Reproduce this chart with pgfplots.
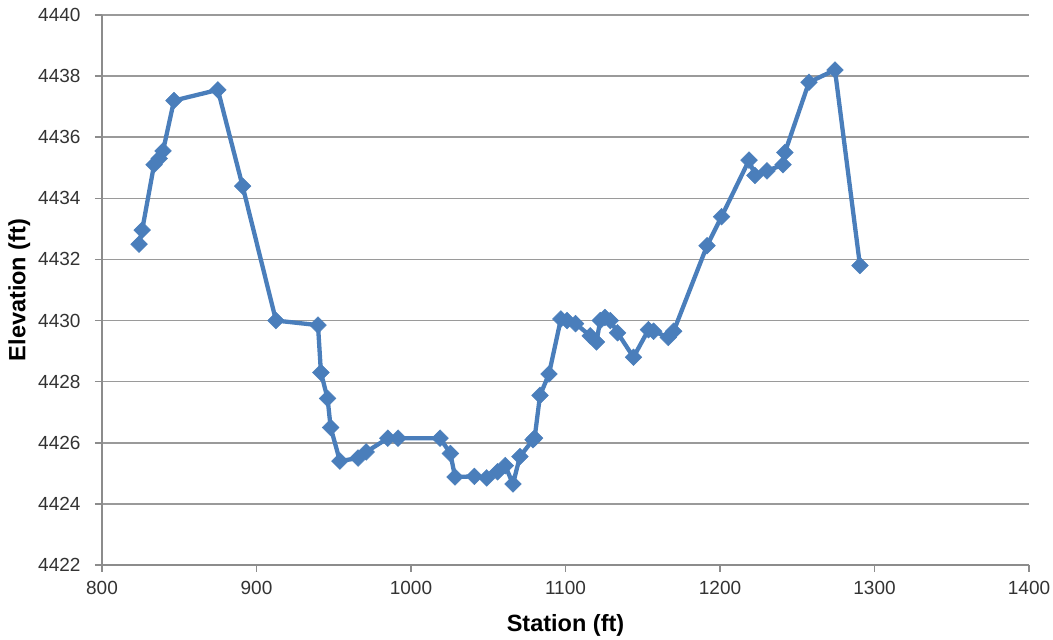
\documentclass[border=0pt]{standalone}
\usepackage{pgfplots}
\pgfplotsset{compat=1.18}
\usepackage{fontspec}
\setmainfont{Liberation Sans}
\definecolor{lineblue}{HTML}{4A7EBB}
\definecolor{gridgray}{HTML}{9A9A9A}
\definecolor{axisgray}{HTML}{8C8C8C}
\begin{document}
\begin{tikzpicture}
\begin{axis}[name=ax, scale only axis, width=927pt, height=550pt,
  xmin=800, xmax=1400, ymin=4422, ymax=4440,
  xtick={800,900,...,1400}, ytick={4422,4424,...,4440},
  axis x line*=bottom, axis y line*=left,
  ymajorgrids, grid style={gridgray, line width=1.5pt},
  major tick length=7pt, tick align=outside,
  tick style={axisgray, line width=1.5pt},
  axis line style={axisgray, line width=1.5pt},
  tick label style={font=\fontsize{19}{21}\selectfont, text=black!80},
  /pgf/number format/assume math mode=true,
  /pgf/number format/set thousands separator={},
  xticklabel style={yshift=-6pt},
  yticklabel style={xshift=-11pt},
  xlabel={Station (ft)}, ylabel={Elevation (ft)},
  label style={font=\fontsize{23.5}{25}\selectfont\bfseries},
  xlabel style={yshift=-13pt},
  ylabel style={yshift=1pt},
  clip=false,
]
\addplot[color=lineblue, line width=4.3pt, mark=square*, mark size=5.9pt,
  mark options={rotate=45, solid, fill=lineblue, draw=lineblue, line width=0.5pt}]
coordinates {
(824,4432.5) (826,4432.96) (833.7,4435.1) (837,4435.3) (839.5,4435.55)
(846.6,4437.2) (875,4437.55) (891,4434.4) (912.6,4430.0) (939.8,4429.85)
(941.7,4428.3) (946,4427.45) (948,4426.5) (954,4425.4) (965.7,4425.5)
(971,4425.7) (985,4426.15) (991.6,4426.15) (1018.8,4426.15) (1025.5,4425.65)
(1028.5,4424.88) (1041,4424.9) (1049,4424.85) (1056,4425.05) (1061,4425.25)
(1066,4424.65) (1070.5,4425.55) (1079,4426.1) (1080,4426.15) (1083.5,4427.55)
(1089.3,4428.25) (1097,4430.05) (1101,4430.0) (1106.5,4429.9) (1116,4429.5)
(1120,4429.3) (1122.5,4430.0) (1125.5,4430.1) (1129,4430.0) (1133.7,4429.6)
(1144,4428.8) (1153.7,4429.7) (1157,4429.65) (1166.5,4429.45) (1170,4429.65)
(1191.6,4432.45) (1201,4433.4) (1218.8,4435.25) (1222.6,4434.75) (1230.4,4434.9)
(1240.8,4435.1) (1242,4435.5) (1257.6,4437.8) (1274.4,4438.2) (1290.6,4431.8)
};
\end{axis}
\pgfresetboundingbox
\path[use as bounding box] ([shift={(-102pt,-74pt)}]ax.south west) rectangle ([shift={(24pt,15pt)}]ax.north east);
\end{tikzpicture}
\end{document}
